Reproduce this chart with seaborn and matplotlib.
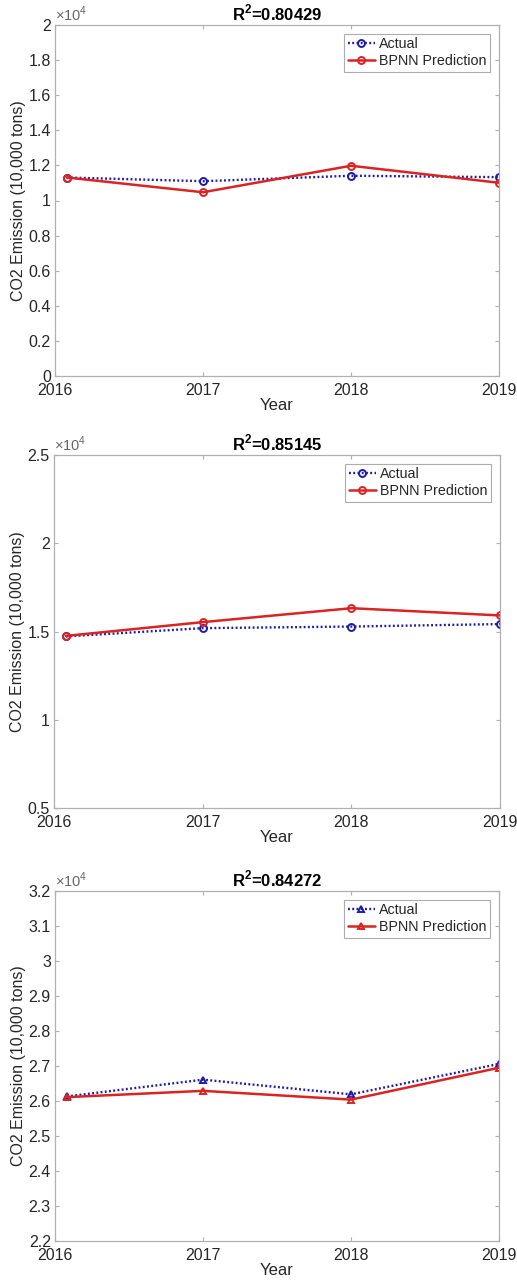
import matplotlib
matplotlib.use("Agg")
import matplotlib.pyplot as plt
import seaborn as sns
import pandas as pd
from matplotlib.ticker import FuncFormatter, FixedLocator

sns.set_theme(style="white")
plt.rcParams['font.family'] = ['Liberation Sans', 'DejaVu Sans']
plt.rcParams['mathtext.fontset'] = 'custom'
plt.rcParams['mathtext.rm'] = 'Liberation Sans'
plt.rcParams['mathtext.bf'] = 'Liberation Sans:bold'

# ---- data ----
years = [2016.08, 2017, 2018, 2019]
year_ticks = [2016, 2017, 2018, 2019]

actual_1 = [11310, 11100, 11410, 11330]
pred_1 = [11310, 10470, 11980, 11010]
actual_2 = [14720, 15190, 15280, 15420]
pred_2 = [14750, 15530, 16320, 15910]
actual_3 = [26130, 26610, 26190, 27060]
pred_3 = [26110, 26290, 26040, 26950]

titles = ["0.80429", "0.85145", "0.84272"]
ylims = [(0, 20000), (5000, 25000), (22000, 32000)]
ysteps = [2000, 5000, 1000]
markers = ["o", "o", "^"]

panels = [(actual_1, pred_1), (actual_2, pred_2), (actual_3, pred_3)]

W, H = 517, 1283
fig = plt.figure(figsize=(W / 100, H / 100), dpi=100)
# axes boxes in pixels: left, right, top, bottom
boxes = [(55, 499, 25, 376), (54, 500, 455, 808), (55, 499, 891, 1241)]

blue = "#1c1ca8"
red = "#d92424"
grey_axis = "#b0b0b0"
text_col = "#262626"

for i, ((act, pred), (l, r, t, b)) in enumerate(zip(panels, boxes)):
    ax = fig.add_axes([l / W, 1 - b / H, (r - l) / W, (b - t) / H])
    df = pd.DataFrame({"Year": years * 2,
                       "val": list(act) + list(pred),
                       "Series": ["Actual"] * 4 + ["BPNN Prediction"] * 4})
    sns.lineplot(data=df[df.Series == "Actual"], x="Year", y="val", ax=ax,
                 color=blue, linestyle=(0, (0.8, 1.0)), linewidth=1.7,
                 marker=markers[i], markersize=5, markerfacecolor="none",
                 markeredgecolor=blue, markeredgewidth=1.4, label="Actual")
    sns.lineplot(data=df[df.Series == "BPNN Prediction"], x="Year", y="val", ax=ax,
                 color=red, linestyle="-", linewidth=1.8,
                 marker=markers[i], markersize=5, markerfacecolor="none",
                 markeredgecolor=red, markeredgewidth=1.4, label="BPNN Prediction")

    ax.set_xlim(2016, 2019)
    lo, hi = ylims[i]
    ax.set_ylim(lo, hi)
    yt = list(range(lo, hi + 1, ysteps[i]))
    ax.yaxis.set_major_locator(FixedLocator(yt))
    ax.yaxis.set_major_formatter(FuncFormatter(lambda v, p: f"{v / 1e4:g}"))
    ax.set_xticks(year_ticks)
    ax.set_xticklabels([str(y) for y in year_ticks])

    for s in ax.spines.values():
        s.set_color(grey_axis)
        s.set_linewidth(0.9)
    ax.tick_params(direction="in", length=3, width=0.8, color=grey_axis,
                   labelsize=11.5, labelcolor=text_col, top=True, right=True,
                   left=True, bottom=True)
    ax.tick_params(axis="x", pad=5)
    ax.tick_params(axis="y", pad=3)
    ax.set_xlabel("Year", fontsize=12, color=text_col, labelpad=0)
    ax.set_ylabel("CO2 Emission (10,000 tons)", fontsize=11.5, color=text_col, labelpad=2)
    ax.set_title(r"R$^{\mathbf{2}}$=" + titles[i], fontsize=12, fontweight="bold",
                 color="black", pad=3)
    ax.text(0.0, 1.004, r"$\times10^4$", transform=ax.transAxes, fontsize=10.5,
            color="#666666", ha="left", va="bottom")

    leg = ax.legend(loc="upper right", fontsize=10.3, frameon=True, fancybox=False,
                    edgecolor="#999999", handlelength=1.9, borderpad=0.25,
                    labelspacing=0.2, handletextpad=0.3, borderaxespad=0.6)
    leg.get_frame().set_linewidth(0.8)
    for txt in leg.get_texts():
        txt.set_color(text_col)

fig.savefig("out.png", dpi=100)
